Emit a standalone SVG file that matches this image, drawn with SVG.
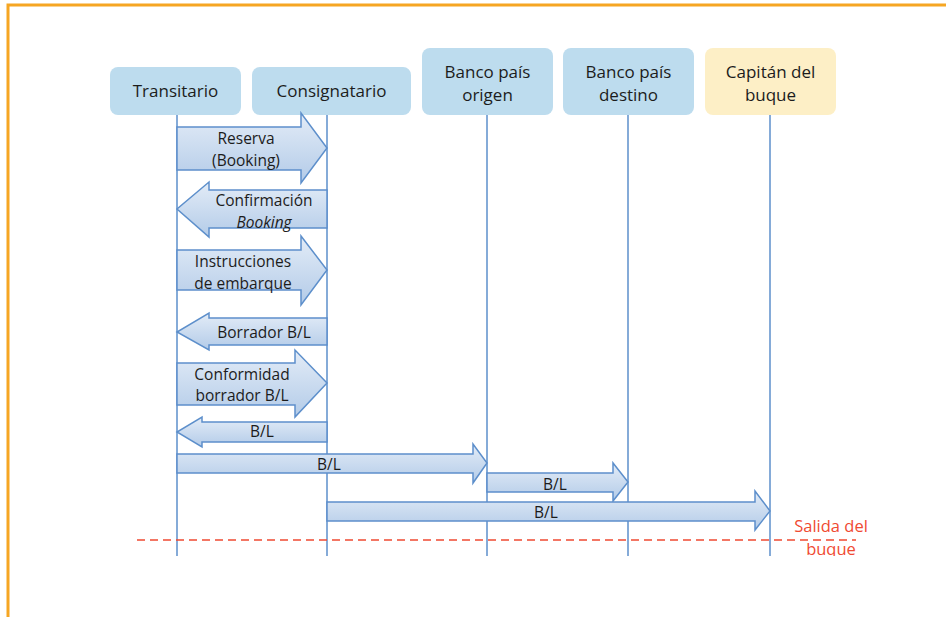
<svg xmlns="http://www.w3.org/2000/svg" width="946" height="617" viewBox="0 0 946 617">
  <defs>
    <linearGradient id="arrowFill" x1="0" y1="0" x2="0" y2="1">
      <stop offset="0" stop-color="#e3ecf7"/>
      <stop offset="1" stop-color="#b3cbe8"/>
    </linearGradient>
    <clipPath id="stageClip">
      <rect x="0" y="0" width="946" height="556"/>
    </clipPath>
  </defs>
  <style>
    .box { fill: #bddcee; }
    .box.captain { fill: #fdefc6; }
    .boxText { font-family: "Open Sans", "Liberation Sans", sans-serif; font-size: 17px; fill: #1c1c1c; text-anchor: middle; }
    .life { stroke: #5d8fcb; stroke-width: 1.5; fill: none; }
    .arrow { fill: url(#arrowFill); stroke: #5d8fcb; stroke-width: 1.5; stroke-linejoin: miter; }
    .lbl { font-family: "Open Sans", "Liberation Sans", sans-serif; font-size: 15.5px; fill: #1c1c1c; text-anchor: middle; }
    .note { font-family: "Open Sans", "Liberation Sans", sans-serif; font-size: 16.5px; fill: #f04a32; text-anchor: middle; }
  </style>

  <rect x="0" y="0" width="946" height="617" fill="#ffffff"/>

  <!-- frame -->
  <path d="M8 617 V5 H946" fill="none" stroke="#f6a623" stroke-width="3"/>

  <!-- participants -->
  <g id="transitario">
    <rect class="box" x="110" y="67" width="131" height="48" rx="8"/>
    <text class="boxText" x="175.5" y="97">Transitario</text>
  </g>
  <g id="consignatario">
    <rect class="box" x="252" y="67" width="159" height="48" rx="8"/>
    <text class="boxText" x="331.5" y="97">Consignatario</text>
  </g>
  <g id="banco-origen">
    <rect class="box" x="422" y="48" width="131" height="67" rx="8"/>
    <text class="boxText" x="487.5" y="78">Banco país</text>
    <text class="boxText" x="487.5" y="101">origen</text>
  </g>
  <g id="banco-destino">
    <rect class="box" x="563" y="48" width="131" height="67" rx="8"/>
    <text class="boxText" x="628.5" y="78">Banco país</text>
    <text class="boxText" x="628.5" y="101">destino</text>
  </g>
  <g id="capitan">
    <rect class="box captain" x="705" y="48" width="131" height="67" rx="8"/>
    <text class="boxText" x="770.5" y="78">Capitán del</text>
    <text class="boxText" x="770.5" y="101">buque</text>
  </g>

  <!-- lifelines -->
  <g id="lifelines" clip-path="url(#stageClip)">
    <line class="life" x1="177" y1="115" x2="177" y2="556"/>
    <line class="life" x1="327" y1="115" x2="327" y2="556"/>
    <line class="life" x1="487" y1="115" x2="487" y2="556"/>
    <line class="life" x1="628" y1="115" x2="628" y2="556"/>
    <line class="life" x1="770" y1="115" x2="770" y2="556"/>
  </g>

  <!-- messages -->
  <g id="messages">
    <!-- Reserva (Booking) -->
    <path class="arrow" d="M177 127 H301 V113 L327 148 L301 183 V170 H177 Z"/>
    <text class="lbl" x="246" y="144">Reserva</text>
    <text class="lbl" x="246" y="166">(Booking)</text>

    <!-- Confirmación Booking -->
    <path class="arrow" d="M327 190 H209 V182 L177 209 L209 237 V228 H327 Z"/>
    <text class="lbl" x="264" y="206">Confirmación</text>
    <text class="lbl" x="264" y="228" font-style="italic">Booking</text>

    <!-- Instrucciones de embarque -->
    <path class="arrow" d="M177 250 H301 V236 L327 270 L301 305 V290 H177 Z"/>
    <text class="lbl" x="243" y="267">Instrucciones</text>
    <text class="lbl" x="243" y="289">de embarque</text>

    <!-- Borrador B/L -->
    <path class="arrow" d="M327 318 H209 V313 L177 332 L209 350 V345 H327 Z"/>
    <text class="lbl" x="264" y="338">Borrador B/L</text>

    <!-- Conformidad borrador B/L -->
    <path class="arrow" d="M177 363 H295 V350 L327 383 L295 417 V405 H177 Z"/>
    <text class="lbl" x="242" y="380">Conformidad</text>
    <text class="lbl" x="242" y="401">borrador B/L</text>

    <!-- B/L back to transitario -->
    <path class="arrow" d="M327 422 H202 V417 L177 432 L202 447 V442 H327 Z"/>
    <text class="lbl" x="262" y="437">B/L</text>

    <!-- B/L to banco origen -->
    <path class="arrow" d="M177 454 H473 V444 L487 463 L473 483 V473 H177 Z"/>
    <text class="lbl" x="329" y="470">B/L</text>

    <!-- B/L to banco destino -->
    <path class="arrow" d="M487 473 H613 V463 L628 482 L613 501 V492 H487 Z"/>
    <text class="lbl" x="555" y="490">B/L</text>

    <!-- B/L to capitán -->
    <path class="arrow" d="M327 502 H755 V491 L770 511 L755 530 V521 H327 Z"/>
    <text class="lbl" x="546" y="518">B/L</text>
  </g>

  <!-- departure marker -->
  <g id="salida" clip-path="url(#stageClip)">
    <line x1="137" y1="540" x2="856" y2="540" stroke="#f04a32" stroke-width="1.5" stroke-dasharray="8 5"/>
    <text class="note" x="831" y="532">Salida del</text>
    <text class="note" x="831" y="555">buque</text>
  </g>
</svg>
